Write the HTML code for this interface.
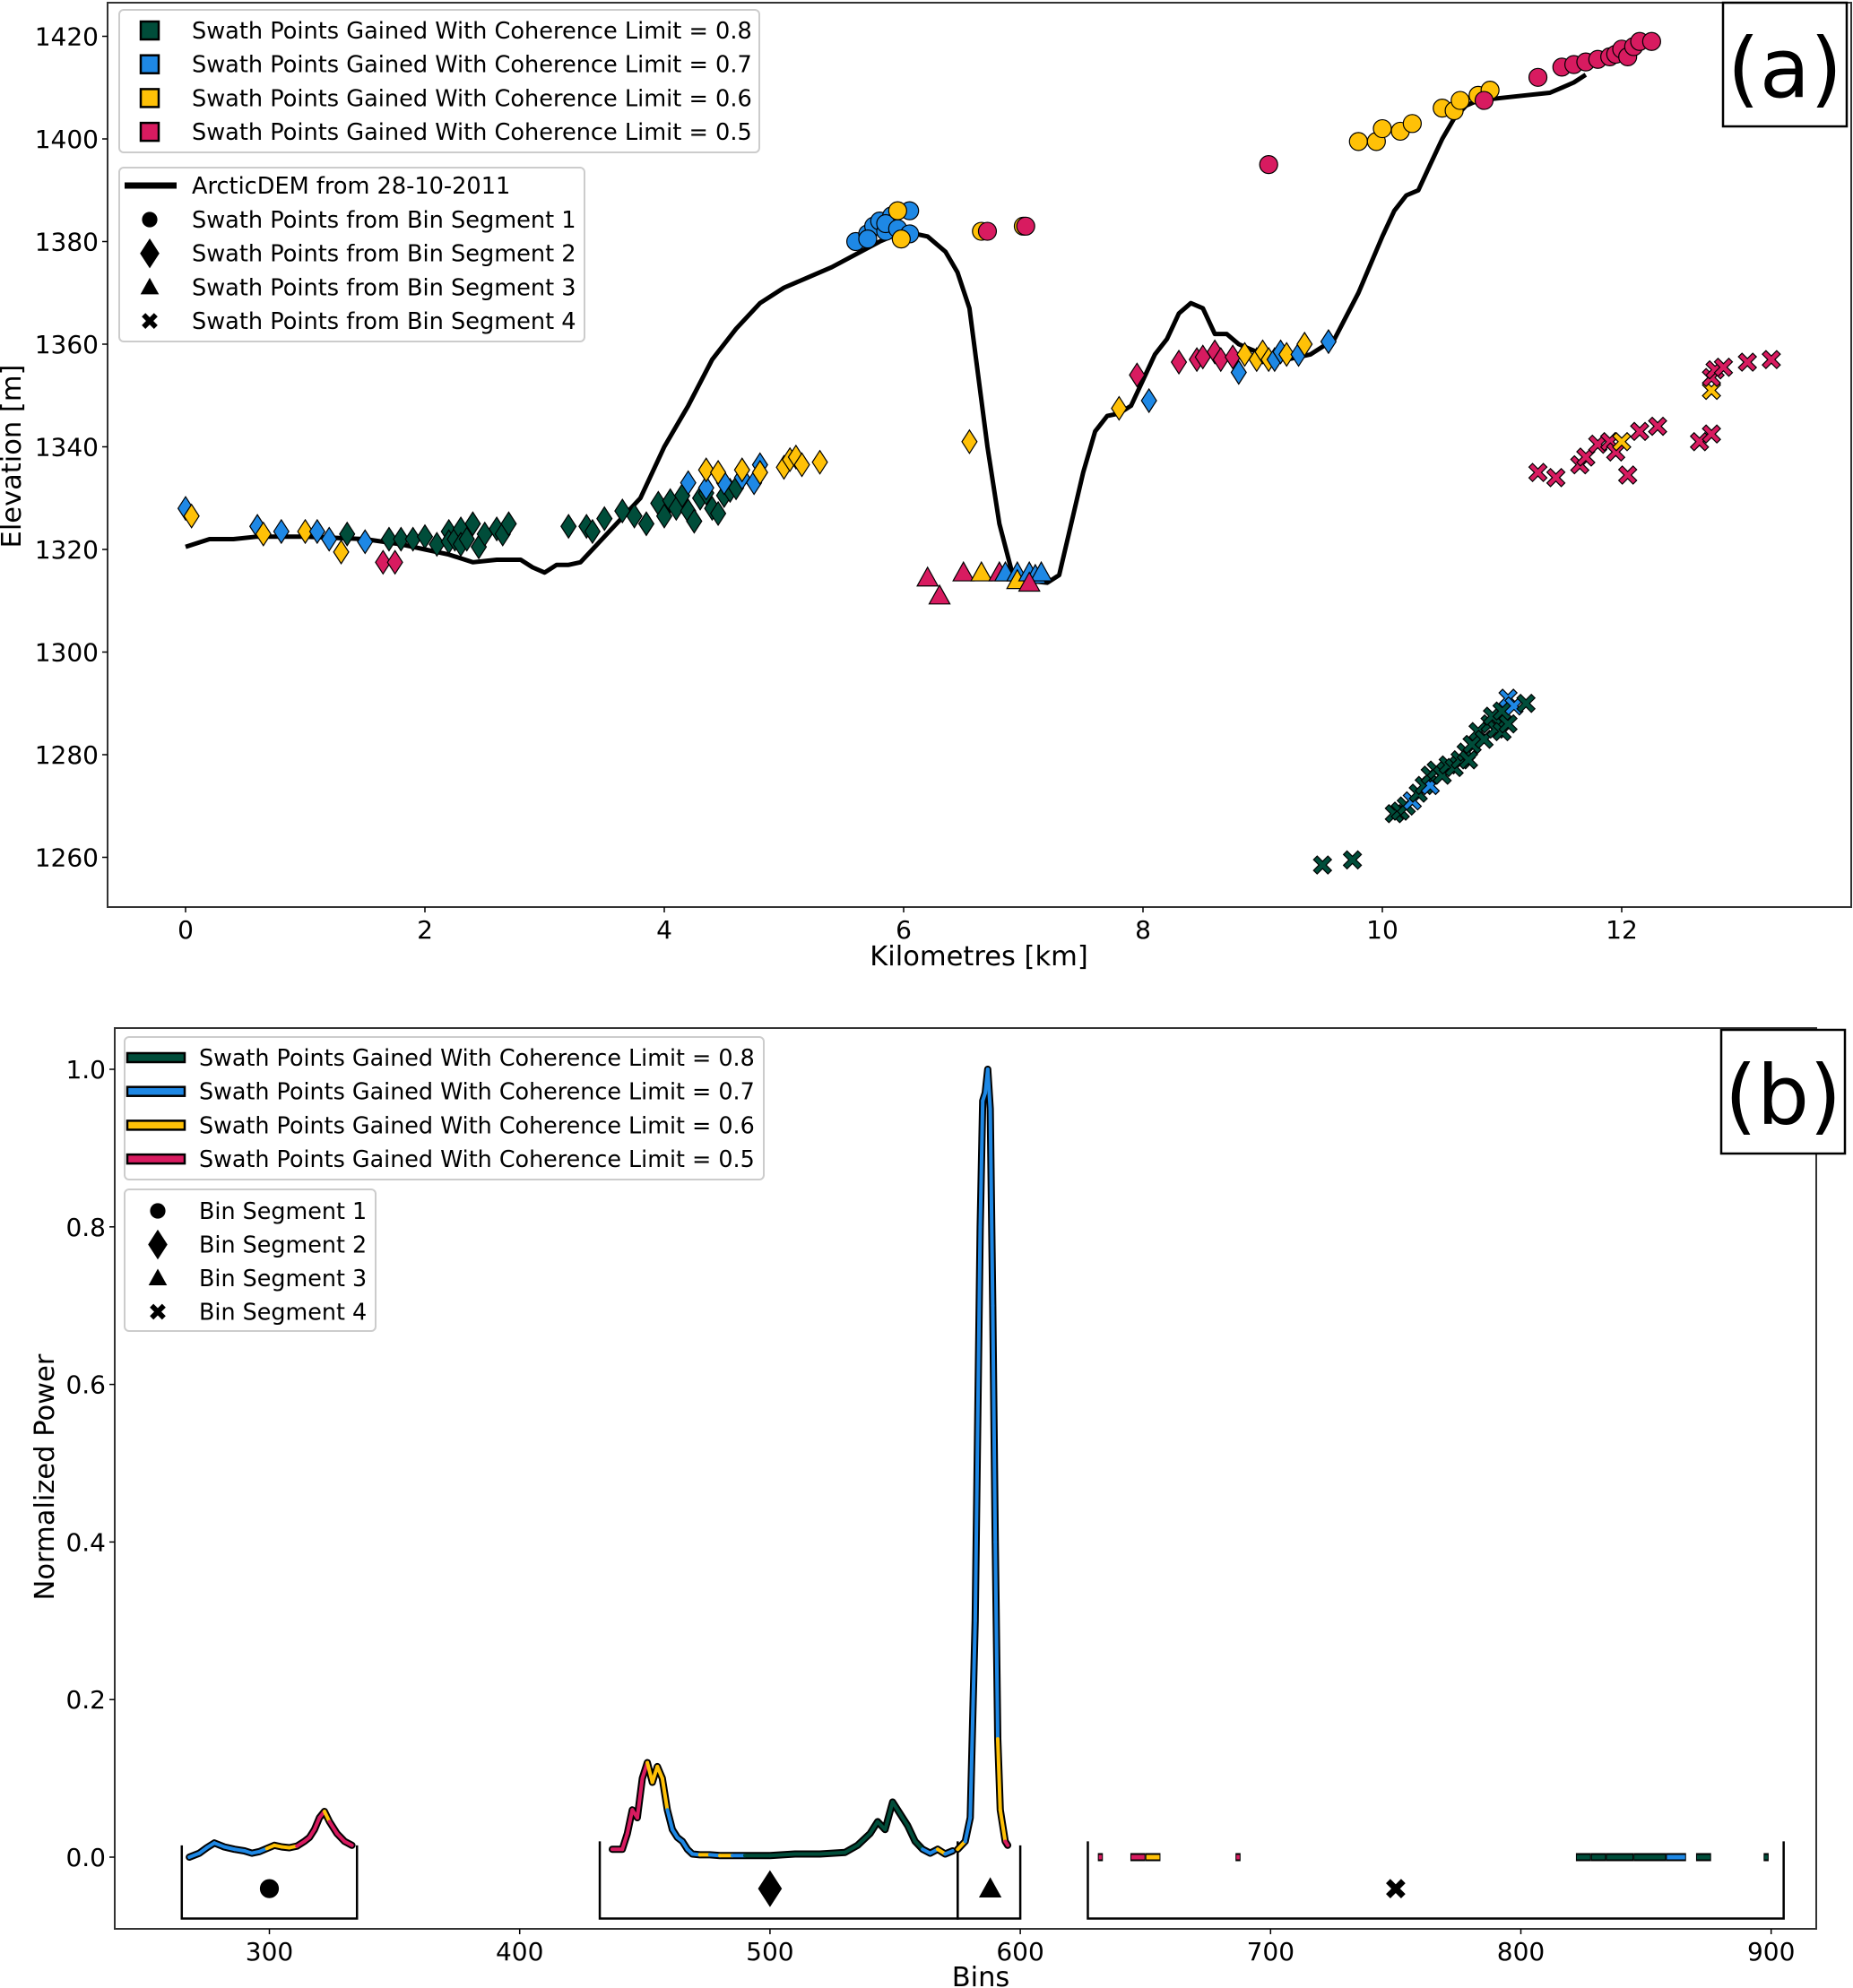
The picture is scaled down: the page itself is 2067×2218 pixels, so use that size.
<!DOCTYPE html>
<html><head><meta charset="utf-8">
<style>
html,body{margin:0;padding:0;background:#fff;}
svg{display:block;font-family:"DejaVu Sans","Liberation Sans",sans-serif;}
</style></head>
<body>
<svg id="chart" width="2067" height="2218" viewBox="0 0 2067 2218" xmlns="http://www.w3.org/2000/svg">
<rect width="2067" height="2218" fill="#fff"/>
<g id="pa"></g>
<g id="pb"></g>
</svg>
<script>
// ---------- Panel (a) data ----------
const colors = ['#004d3a','#1e88e5','#ffc107','#d81b60'];
const cohLabels = ['0.8','0.7','0.6','0.5'];
const aYTicks = [1260,1280,1300,1320,1340,1360,1380,1400,1420];
const aXTicks = [0,2,4,6,8,10,12];
const demKm = [0,0.2,0.4,0.6,1,1.5,1.8,2.0,2.2,2.4,2.6,2.8,2.9,3.0,3.1,3.2,3.3,3.4,3.6,3.8,4.0,4.2,4.4,4.6,4.8,5.0,5.2,5.4,5.6,5.8,6.0,6.2,6.35,6.45,6.55,6.6,6.7,6.8,6.9,7.0,7.2,7.3,7.4,7.5,7.6,7.7,7.8,7.9,8.0,8.1,8.2,8.3,8.4,8.5,8.6,8.7,8.8,9.0,9.2,9.4,9.6,9.8,10.0,10.1,10.2,10.3,10.4,10.5,10.6,10.7,10.8,11.0,11.2,11.4,11.5,11.6,11.7];
const demElev = [1320.5,1322,1322,1322.5,1322.5,1322,1321,1320,1319,1317.5,1318,1318,1316.5,1315.5,1317,1317,1317.5,1320,1325,1330,1340,1348,1357,1363,1368,1371,1373,1375,1377.5,1380,1382,1381,1378,1374,1367,1358,1340,1325,1316,1314,1313.5,1315,1325,1335,1343,1346,1346.5,1348,1353,1358,1361,1366,1368,1367,1362,1362,1360,1358,1357,1358,1361,1370,1381,1386,1389,1390,1395,1400,1404,1406.5,1407.5,1408,1408.5,1409,1410,1411,1412.5];
// segment 1 (circles): [km, elev, colorIdx]
const seg1 = [[5.6,1380,1],[5.7,1381.5,1],[5.75,1383,1],[5.8,1384,1],[5.85,1382,1],[5.9,1385,1],[5.85,1383.5,1],[5.95,1382.5,1],[6.05,1381.5,1],[6.05,1386,1],[5.7,1380.5,1],[5.95,1386,2],[5.98,1380.5,2],[6.65,1382,2],[7.0,1383,2],[6.7,1382,3],[7.02,1383,3],[9.05,1395,3],
[9.8,1399.5,2],[9.95,1399.5,2],[10.0,1402,2],[10.15,1401.5,2],[10.25,1403,2],[10.5,1406,2],[10.6,1405.5,2],[10.65,1407.5,2],[10.8,1408.5,2],[10.9,1409.5,2],
[10.85,1407.5,3],[11.3,1412,3],[11.5,1414,3],[11.6,1414.5,3],[11.7,1415,3],[11.8,1415.5,3],[11.9,1416,3],[11.95,1416.5,3],[12.0,1417.5,3],[12.05,1416,3],[12.1,1418,3],[12.15,1419,3],[12.25,1419,3]];
// segment 2 (diamonds)
const seg2 = [[0,1328,1],[0.05,1326.5,2],[0.6,1324.5,1],[0.65,1323,2],[0.8,1323.5,1],[1.0,1323.5,2],[1.1,1323.5,1],[1.2,1322,1],[1.3,1319.5,2],[1.35,1323,0],[1.5,1321.5,1],[1.65,1317.5,3],[1.75,1317.5,3],
[1.7,1322,0],[1.8,1322,0],[1.9,1322,0],[2.0,1322.5,0],[2.1,1321,0],[2.2,1323.5,0],[2.2,1321.5,0],[2.25,1322,0],[2.3,1324,0],[2.3,1321,0],[2.35,1322,0],[2.4,1325,0],[2.45,1320.5,0],[2.5,1323,0],[2.6,1324,0],[2.65,1323,0],[2.7,1325,0],
[3.2,1324.5,0],[3.35,1324.5,0],[3.4,1323.5,0],[3.5,1326,0],[3.65,1327.5,0],[3.75,1326.5,0],[3.85,1325,0],[3.95,1329,0],[4.0,1326.5,0],[4.05,1329.5,0],[4.1,1328,0],[4.15,1330.5,0],[4.2,1327.5,0],[4.25,1325.5,0],[4.3,1330,0],[4.35,1331,0],[4.4,1328,0],[4.45,1327,0],[4.5,1330.5,0],[4.55,1331.5,0],[4.6,1332,0],
[4.2,1333,1],[4.35,1332,1],[4.5,1333,1],[4.65,1334,1],[4.75,1333,1],[4.8,1336.5,1],
[4.35,1335.5,2],[4.45,1335,2],[4.65,1335.5,2],[4.8,1335,2],[5.0,1336,2],[5.05,1337.5,2],[5.1,1338,2],[5.15,1336.5,2],[5.3,1337,2],[6.55,1341,2],
[7.8,1347.5,2],[7.95,1354,3],[8.05,1349,1],[8.3,1356.5,3],[8.45,1357,3],[8.5,1357.5,3],[8.6,1358.5,3],[8.65,1357,3],[8.75,1357.5,3],[8.8,1354.5,1],[8.85,1358,2],[8.95,1357,2],[9.0,1358.5,2],[9.05,1357,2],[9.1,1357,1],[9.15,1358.5,1],[9.2,1358,2],[9.3,1358,1],[9.35,1360,2],[9.55,1360.5,1]];
// segment 3 (triangles)
const seg3 = [[6.2,1314.5,3],[6.3,1311,3],[6.5,1315.5,3],[6.65,1315.5,2],[6.8,1315.5,3],[6.85,1315.5,1],[6.95,1315.5,1],[6.95,1314,2],[7.05,1315.5,1],[7.1,1315,1],[7.15,1315.5,1],[7.05,1313.5,3]];
// segment 4 (crosses)
const seg4 = [[9.5,1258.5,0],[9.75,1259.5,0],[10.1,1268.5,0],[10.15,1269,0],[10.2,1270,0],[10.25,1271,1],[10.3,1272.5,0],[10.35,1274,0],[10.4,1274,1],[10.4,1276,0],[10.45,1277,0],[10.5,1276,0],[10.55,1278,0],[10.6,1277.5,0],[10.65,1279,0],[10.7,1280.5,0],[10.72,1279,0],[10.75,1282,0],[10.8,1284.5,0],[10.85,1283,0],[10.9,1286,0],[10.95,1285,0],[10.92,1287.5,0],[11.0,1284.5,0],[11.05,1286,0],[11.0,1288.5,0],[11.05,1291,1],[11.1,1289.5,1],[11.2,1290,0],
[11.3,1335,3],[11.45,1334,3],[11.65,1336.5,3],[11.7,1338,3],[11.8,1340.5,3],[11.9,1341,3],[11.95,1339,3],[12.0,1341,2],[12.05,1334.5,3],[12.15,1343,3],[12.3,1344,3],[12.65,1341,3],[12.75,1342.5,3],[12.75,1351,2],[12.75,1353.5,3],[12.78,1355,3],[12.85,1355.5,3],[13.05,1356.5,3],[13.25,1357,3]];

// ---------- Panel (b) data ----------
const bYTicks = [0.0,0.2,0.4,0.6,0.8,1.0];
const bXTicks = [300,400,500,600,700,800,900];
const b1Bins = [268,272,275,278,282,286,290,293,296,299,302,305,308,311,314,316,318,320,322,324,327,330,333];
const b1Pow = [0.0,0.005,0.012,0.018,0.013,0.01,0.008,0.005,0.007,0.011,0.015,0.013,0.012,0.014,0.02,0.025,0.035,0.05,0.058,0.045,0.03,0.02,0.015];
const b1Col = [1,1,1,1,1,1,1,1,1,2,2,2,2,3,3,3,3,3,2,3,3,3,3];
const b2Bins = [437,441,443,445,447,449,451,453,455,457,459,461,463,465,467,469,472,476,480,485,490,500,510,520,530,535,540,543,546,549,552,555,558,561,564,567,570,573];
const b2Pow = [0.01,0.01,0.03,0.06,0.05,0.1,0.12,0.095,0.115,0.1,0.06,0.035,0.025,0.02,0.01,0.004,0.003,0.003,0.002,0.002,0.002,0.002,0.004,0.004,0.006,0.015,0.03,0.045,0.035,0.07,0.055,0.04,0.02,0.01,0.005,0.01,0.004,0.008];
const b2Col = [3,3,3,3,3,3,2,2,2,2,1,1,1,1,1,1,2,1,2,1,0,0,0,0,0,0,0,0,0,0,0,0,0,1,1,2,1,3];
const b3Bins = [575,578,580,582,584,585,586,587,588,589,590,591,592,594,595];
const b3Pow = [0.01,0.02,0.05,0.3,0.8,0.96,0.97,1.0,0.95,0.7,0.4,0.15,0.06,0.02,0.015];
const b3Col = [2,1,1,1,1,1,1,1,1,1,1,2,2,3,3];
const b4Start = [631,644,650,686,822,828,834,845,858,870,897];
const b4End = [633,650,656,688,828,834,845,858,866,876,899];
const b4Col = [3,3,2,3,0,0,0,0,1,0,0];

const NS='http://www.w3.org/2000/svg';
function mk(tag,attrs,parent){const e=document.createElementNS(NS,tag);for(const k in attrs)e.setAttribute(k,attrs[k]);parent.appendChild(e);return e;}
function txt(s,attrs,parent){const e=mk('text',attrs,parent);e.textContent=s;return e;}

function marker(g,type,cx,cy,fill,s){
  let e;
  if(type==='circle'){e=mk('circle',{cx:cx,cy:cy,r:s*0.5,fill:fill,stroke:'#000','stroke-width':1.2},g);}
  else if(type==='diamond'){const w=s*0.42,h=s*0.65;e=mk('polygon',{points:`${cx},${cy-h} ${cx+w},${cy} ${cx},${cy+h} ${cx-w},${cy}`,fill:fill,stroke:'#000','stroke-width':1.2},g);}
  else if(type==='triangle'){const h=s*0.58;e=mk('polygon',{points:`${cx},${cy-h} ${cx+h},${cy+h*0.8} ${cx-h},${cy+h*0.8}`,fill:fill,stroke:'#000','stroke-width':1.2},g);}
  else if(type==='square'){const h=s*0.5;e=mk('rect',{x:cx-h,y:cy-h,width:2*h,height:2*h,fill:fill,stroke:'#000','stroke-width':2.5},g);}
  else {const a=s*0.5,t=s*0.2;
    const p=[[-a+t,-a],[0,-t],[a-t,-a],[a,-a+t],[t,0],[a,a-t],[a-t,a],[0,t],[-a+t,a],[-a,a-t],[-t,0],[-a,-a+t]].map(q=>(cx+q[0])+','+(cy+q[1])).join(' ');
    e=mk('polygon',{points:p,fill:fill,stroke:'#000','stroke-width':1.2},g);}
  return e;
}

// ---------- Panel (a) ----------
(function(){
  const g=document.getElementById('pa');
  const L=120,R=2065,T=3,B=1012;
  const xs=km=>207+km*133.5;
  const ys=m=>384-(m-1360)*5.725;
  const frame=mk('rect',{x:L,y:T,width:R-L,height:B-T,fill:'none',stroke:'#333','stroke-width':2},g);
  
  
  aYTicks.forEach(v=>{
    mk('line',{x1:L-6,x2:L,y1:ys(v),y2:ys(v),stroke:'#000','stroke-width':1.5},g);
    const t=txt(String(v),{x:L-10,y:ys(v)+10,'text-anchor':'end','font-size':28},g);
    
    
  });
  aXTicks.forEach(v=>{
    mk('line',{x1:xs(v),x2:xs(v),y1:B,y2:B+6,stroke:'#000','stroke-width':1.5},g);
    const t=txt(String(v),{x:xs(v),y:B+35,'text-anchor':'middle','font-size':28},g);
    
    
  });
  const xl=txt('Kilometres [km]',{x:1092,y:1077,'text-anchor':'middle','font-size':30.5},g);
  
  
  const yl=txt('Elevation [m]',{x:0,y:0,'text-anchor':'middle','font-size':30.5,transform:'translate(23,509) rotate(-90)'},g);
  
  
  const d=demKm.map((k,i)=>(i?'L':'M')+xs(k).toFixed(1)+','+ys(demElev[i]).toFixed(1)).join(' ');
  const dem=mk('path',{d:d,fill:'none',stroke:'#000','stroke-width':5,'stroke-linejoin':'round'},g);
  
  
  [[seg4,'cross'],[seg3,'triangle'],[seg2,'diamond'],[seg1,'circle']].forEach(([arr,type])=>{
    arr.forEach(p=>{
      const e=marker(g,type,xs(p[0]),ys(p[1]),colors[p[2]],20);
      
      
    });
  });
  const lb=mk('rect',{x:1922,y:3,width:138,height:138,fill:'#fff',stroke:'#000','stroke-width':2.5},g);
  
  
  const lt=txt('(a)',{x:1991,y:108,'text-anchor':'middle','font-size':92},g);
  
  
  const lg1=mk('g',{},g);
  
  
  mk('rect',{x:133,y:11,width:714,height:159,rx:5,fill:'#fff',stroke:'#ccc','stroke-width':2},lg1);
  cohLabels.forEach((c,i)=>{
    const y=34+i*37.7;
    marker(lg1,'square',167,y,colors[i],20);
    const t=txt('Swath Points Gained With Coherence Limit = '+c,{x:214,y:y+9,'font-size':25.6},lg1);
    
    
  });
  const lg2=mk('g',{},g);
  
  
  mk('rect',{x:133,y:187,width:519,height:194,rx:5,fill:'#fff',stroke:'#ccc','stroke-width':2},lg2);
  mk('line',{x1:139,x2:197,y1:207,y2:207,stroke:'#000','stroke-width':7},lg2);
  txt('ArcticDEM from 28-10-2011',{x:214,y:216,'font-size':25.6},lg2);
  ['circle','diamond','triangle','cross'].forEach((m,i)=>{
    const y=245+i*37.7;
    marker(lg2,m,167,y,'#000',m==='diamond'?24:16);
    const t=txt('Swath Points from Bin Segment '+(i+1),{x:214,y:y+9,'font-size':25.6},lg2);
    
    
  });
})();

// ---------- Panel (b) ----------
(function(){
  const g=document.getElementById('pb');
  const L=128,R=2026,T=1147,B=2152;
  const xs=b=>300.5+(b-300)*2.792;
  const ys=v=>2072-v*879;
  const frame=mk('rect',{x:L,y:T,width:R-L,height:B-T,fill:'none',stroke:'#333','stroke-width':2},g);
  
  
  bYTicks.forEach(v=>{
    mk('line',{x1:L-6,x2:L,y1:ys(v),y2:ys(v),stroke:'#000','stroke-width':1.5},g);
    const t=txt(v.toFixed(1),{x:L-10,y:ys(v)+10,'text-anchor':'end','font-size':28},g);
    
    
  });
  bXTicks.forEach(v=>{
    mk('line',{x1:xs(v),x2:xs(v),y1:B,y2:B+6,stroke:'#000','stroke-width':1.5},g);
    const t=txt(String(v),{x:xs(v),y:B+35,'text-anchor':'middle','font-size':28},g);
    
    
  });
  const xl=txt('Bins',{x:1094,y:2216,'text-anchor':'middle','font-size':30.5},g);
  
  
  const yl=txt('Normalized Power',{x:0,y:0,'text-anchor':'middle','font-size':30.5,transform:'translate(60,1648) rotate(-90)'},g);
  
  
  const brk=[[265,335],[432,575],[575,600],[627,905]];
  const brTop=[0.015,0.02,0.015,0.02];
  brk.forEach((b,i)=>{
    const p=mk('path',{d:`M${xs(b[0])},${ys(brTop[i])} L${xs(b[0])},${ys(-0.078)} L${xs(b[1])},${ys(-0.078)} L${xs(b[1])},${ys(brTop[i])}`,fill:'none',stroke:'#000','stroke-width':2.5},g);
    
    
  });
  [[300,'circle'],[500,'diamond'],[588,'triangle'],[750,'cross']].forEach(([b,m])=>{
    const e=marker(g,m,xs(b),ys(-0.04),'#000',m==='diamond'?30:20);
    
    
  });
  function drawLine(bins,pow,col,name){
    const lg=mk('g',{},g);
    
    
    const d=bins.map((b,i)=>(i?'L':'M')+xs(b).toFixed(1)+','+ys(pow[i]).toFixed(1)).join(' ');
    mk('path',{d:d,fill:'none',stroke:'#000','stroke-width':8,'stroke-linejoin':'round','stroke-linecap':'round'},lg);
    for(let i=0;i<bins.length-1;i++){
      mk('line',{x1:xs(bins[i]),y1:ys(pow[i]),x2:xs(bins[i+1]),y2:ys(pow[i+1]),stroke:colors[col[i]],'stroke-width':4,'stroke-linecap':'round'},lg);
    }
  }
  drawLine(b1Bins,b1Pow,b1Col,'power-line-segment-1');
  drawLine(b2Bins,b2Pow,b2Col,'power-line-segment-2');
  drawLine(b3Bins,b3Pow,b3Col,'power-line-segment-3');
  b4Start.forEach((s,i)=>{
    mk('line',{x1:xs(s),x2:xs(b4End[i]),y1:ys(0),y2:ys(0),stroke:'#000','stroke-width':9},g);
    const e=mk('line',{x1:xs(s)+1,x2:xs(b4End[i])-1,y1:ys(0),y2:ys(0),stroke:colors[b4Col[i]],'stroke-width':5},g);
    
    
  });
  const lb=mk('rect',{x:1920,y:1149,width:138,height:138,fill:'#fff',stroke:'#000','stroke-width':2.5},g);
  
  
  const lt=txt('(b)',{x:1989,y:1254,'text-anchor':'middle','font-size':92},g);
  
  
  const lg1=mk('g',{},g);
  
  
  mk('rect',{x:139,y:1157,width:713,height:159,rx:5,fill:'#fff',stroke:'#ccc','stroke-width':2},lg1);
  cohLabels.forEach((c,i)=>{
    const y=1180+i*37.7;
    mk('rect',{x:142,y:y-5,width:64,height:10,fill:colors[i],stroke:'#000','stroke-width':2.5},lg1);
    const t=txt('Swath Points Gained With Coherence Limit = '+c,{x:222,y:y+9,'font-size':25.4},lg1);
    
    
  });
  const lg2=mk('g',{},g);
  
  
  mk('rect',{x:139,y:1327,width:280,height:158,rx:5,fill:'#fff',stroke:'#ccc','stroke-width':2},lg2);
  ['circle','diamond','triangle','cross'].forEach((m,i)=>{
    const y=1351+i*37.5;
    marker(lg2,m,176,y,'#000',m==='diamond'?24:16);
    const t=txt('Bin Segment '+(i+1),{x:222,y:y+9,'font-size':25.4},lg2);
    
    
  });
})();
</script>
</body></html>
